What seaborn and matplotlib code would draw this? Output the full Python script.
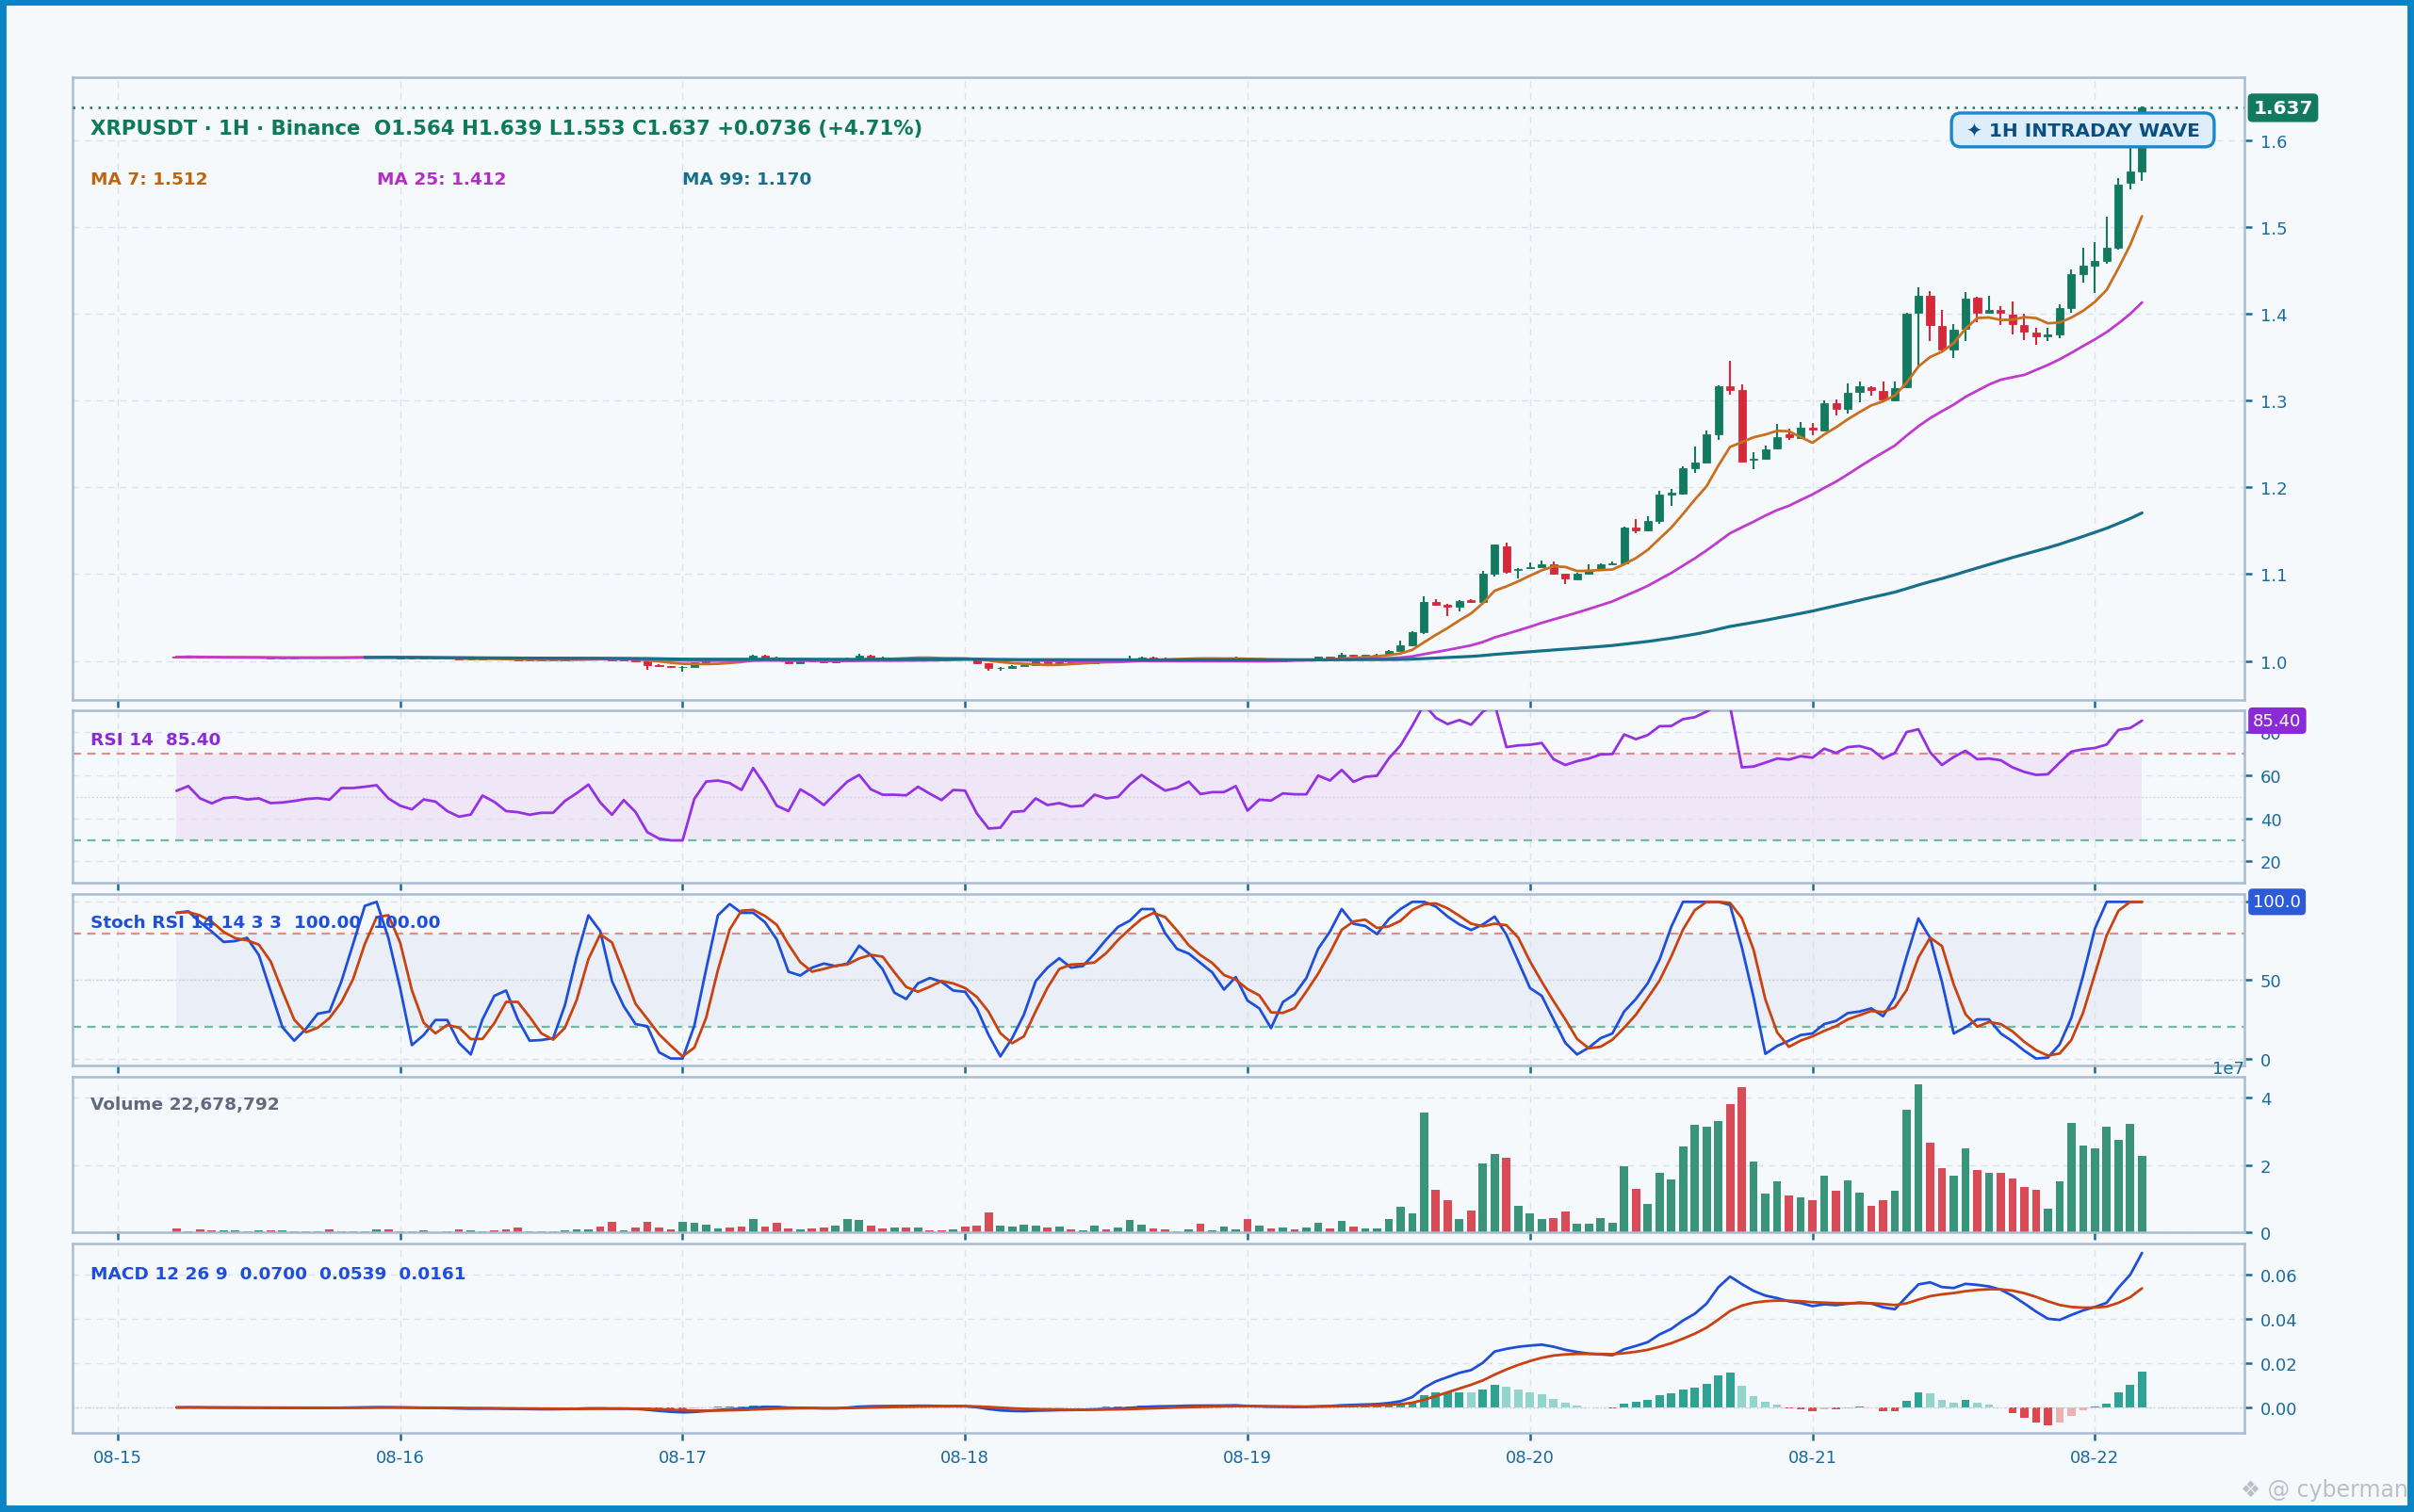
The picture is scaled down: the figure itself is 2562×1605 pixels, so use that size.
import numpy as np
import pandas as pd
import matplotlib
matplotlib.use("Agg")
import matplotlib.pyplot as plt
import matplotlib.dates as mdates
import matplotlib.transforms as mtransforms
from matplotlib.patches import Rectangle
import seaborn as sns

sns.set_theme(style="white")
plt.rcParams['font.family'] = ['DejaVu Sans']

# ---------------- data (hourly candles, 08-15 05:00 .. 08-22 04:00) ----------------
start_time = "2025-08-15 05:00"
opens = [1.0050, 1.0043, 1.0050, 1.0041, 1.0034, 1.0038, 1.0040, 1.0035, 1.0037, 1.0031,
         1.0032, 1.0034, 1.0036, 1.0037, 1.0035, 1.0046, 1.0047, 1.0049, 1.0052, 1.0040,
         1.0032, 1.0024, 1.0031, 1.0032, 1.0022, 1.0012, 1.0014, 1.0029, 1.0023, 1.0013,
         1.0005, 1.0007, 1.0009, 1.0010, 1.0020, 1.0027, 1.0036, 1.0020, 1.0005, 1.0013,
         0.9998, 0.9956, 0.9936, 0.9927, 0.9935, 0.9980, 1.0010, 1.0025, 1.0020, 1.0012,
         1.0060, 1.0043, 1.0012, 0.9975, 1.0000, 0.9993, 0.9982, 0.9998, 1.0030, 1.0060,
         1.0040, 1.0030, 1.0031, 1.0028, 1.0040, 1.0030, 1.0018, 1.0030, 1.0027, 0.9970,
         0.9915, 0.9918, 0.9945, 0.9955, 0.9990, 0.9978, 0.9985, 0.9975, 0.9977, 0.9998,
         0.9992, 1.0000, 1.0022, 1.0040, 1.0030, 1.0020, 1.0024, 1.0036, 1.0022, 1.0026,
         1.0028, 1.0038, 0.9990, 1.0005, 0.9998, 1.0010, 1.0005, 1.0015, 1.0045, 1.0040,
         1.0068, 1.0058, 1.0066, 1.0073, 1.0116, 1.0174, 1.0334, 1.0680, 1.0650, 1.0620,
         1.0700, 1.0680, 1.1000, 1.1320, 1.1050, 1.1070, 1.1085, 1.1117, 1.1000, 1.0943,
         1.1008, 1.1045, 1.1110, 1.1125, 1.1540, 1.1500, 1.1607, 1.1915, 1.1930, 1.2220,
         1.2280, 1.2615, 1.3160, 1.3120, 1.2315, 1.2330, 1.2445, 1.2605, 1.2563, 1.2690,
         1.2654, 1.2968, 1.2906, 1.3097, 1.3152, 1.3112, 1.2996, 1.3148, 1.4007, 1.4206,
         1.3856, 1.3581, 1.3820, 1.4180, 1.4007, 1.4043, 1.3990, 1.3870, 1.3783, 1.3737,
         1.3755, 1.4061, 1.4451, 1.4549, 1.4603, 1.4755, 1.5505, 1.5640]
highs = [1.0056, 1.0055, 1.0053, 1.0045, 1.0043, 1.0046, 1.0044, 1.0042, 1.0040, 1.0038,
         1.0039, 1.0041, 1.0042, 1.0041, 1.0052, 1.0053, 1.0055, 1.0060, 1.0055, 1.0044,
         1.0036, 1.0037, 1.0036, 1.0035, 1.0026, 1.0019, 1.0034, 1.0032, 1.0027, 1.0017,
         1.0012, 1.0014, 1.0015, 1.0025, 1.0032, 1.0042, 1.0040, 1.0024, 1.0019, 1.0016,
         1.0002, 0.9962, 0.9945, 0.9940, 0.9985, 1.0015, 1.0030, 1.0030, 1.0026, 1.0072,
         1.0066, 1.0048, 1.0016, 1.0005, 1.0004, 0.9998, 1.0004, 1.0036, 1.0078, 1.0068,
         1.0044, 1.0037, 1.0035, 1.0046, 1.0044, 1.0034, 1.0035, 1.0038, 1.0031, 0.9975,
         0.9925, 0.9950, 0.9960, 0.9996, 0.9995, 0.9990, 0.9990, 0.9982, 1.0004, 1.0003,
         1.0006, 1.0062, 1.0046, 1.0045, 1.0034, 1.0028, 1.0042, 1.0040, 1.0030, 1.0032,
         1.0044, 1.0042, 1.0010, 1.0009, 1.0015, 1.0014, 1.0020, 1.0050, 1.0050, 1.0090,
         1.0074, 1.0072, 1.0080, 1.0125, 1.0230, 1.0340, 1.0740, 1.0710, 1.0660, 1.0700,
         1.0715, 1.1040, 1.1340, 1.1360, 1.1065, 1.1135, 1.1160, 1.1150, 1.1005, 1.1015,
         1.1110, 1.1125, 1.1140, 1.1545, 1.1636, 1.1670, 1.1960, 1.1980, 1.2240, 1.2470,
         1.2650, 1.3170, 1.3457, 1.3190, 1.2400, 1.2480, 1.2726, 1.2670, 1.2755, 1.2744,
         1.2997, 1.3010, 1.3195, 1.3220, 1.3160, 1.3220, 1.3220, 1.4010, 1.4303, 1.4260,
         1.4043, 1.3880, 1.4250, 1.4190, 1.4206, 1.4087, 1.4140, 1.4000, 1.3840, 1.3834,
         1.4105, 1.4513, 1.4755, 1.4820, 1.5116, 1.5563, 1.5990, 1.6390]
lows = [1.0038, 1.0040, 1.0036, 1.0029, 1.0030, 1.0034, 1.0030, 1.0031, 1.0026, 1.0027,
        1.0029, 1.0030, 1.0032, 1.0030, 1.0033, 1.0042, 1.0043, 1.0045, 1.0035, 1.0027,
        1.0012, 1.0020, 1.0027, 1.0017, 1.0006, 1.0008, 1.0011, 1.0018, 1.0008, 0.9998,
        1.0001, 1.0003, 1.0005, 1.0007, 1.0016, 1.0023, 1.0015, 0.9998, 1.0001, 0.9992,
        0.9900, 0.9925, 0.9915, 0.9877, 0.9930, 0.9976, 1.0005, 1.0014, 1.0006, 1.0010,
        1.0038, 1.0006, 0.9968, 0.9970, 0.9987, 0.9976, 0.9972, 0.9995, 1.0026, 1.0034,
        1.0025, 1.0026, 1.0022, 1.0024, 1.0025, 1.0012, 1.0014, 1.0022, 0.9962, 0.9890,
        0.9885, 0.9910, 0.9938, 0.9950, 0.9972, 0.9966, 0.9970, 0.9971, 0.9973, 0.9986,
        0.9988, 0.9996, 1.0018, 1.0024, 1.0015, 1.0016, 1.0020, 1.0016, 1.0018, 1.0022,
        1.0024, 0.9984, 0.9985, 0.9993, 0.9994, 1.0000, 1.0001, 1.0012, 1.0034, 1.0036,
        1.0052, 1.0054, 1.0062, 1.0068, 1.0110, 1.0168, 1.0310, 1.0640, 1.0520, 1.0570,
        1.0670, 1.0675, 1.0970, 1.1000, 1.0950, 1.1065, 1.1080, 1.0990, 1.0880, 1.0935,
        1.1000, 1.1040, 1.1100, 1.1120, 1.1470, 1.1490, 1.1580, 1.1790, 1.1920, 1.2160,
        1.2275, 1.2540, 1.3070, 1.2295, 1.2210, 1.2320, 1.2440, 1.2545, 1.2555, 1.2600,
        1.2650, 1.2823, 1.2852, 1.2980, 1.3050, 1.3010, 1.2990, 1.3140, 1.3394, 1.3680,
        1.3575, 1.3484, 1.3682, 1.3900, 1.4000, 1.3870, 1.3755, 1.3700, 1.3635, 1.3680,
        1.3720, 1.4010, 1.4357, 1.4240, 1.4570, 1.4740, 1.5430, 1.5530]
closes = [1.0043, 1.0050, 1.0041, 1.0034, 1.0038, 1.0040, 1.0035, 1.0037, 1.0031, 1.0032,
          1.0034, 1.0036, 1.0037, 1.0035, 1.0046, 1.0047, 1.0049, 1.0052, 1.0040, 1.0032,
          1.0024, 1.0031, 1.0032, 1.0022, 1.0012, 1.0014, 1.0029, 1.0023, 1.0013, 1.0005,
          1.0007, 1.0009, 1.0010, 1.0020, 1.0027, 1.0036, 1.0020, 1.0005, 1.0013, 0.9998,
          0.9956, 0.9936, 0.9927, 0.9935, 0.9980, 1.0010, 1.0025, 1.0020, 1.0012, 1.0060,
          1.0043, 1.0012, 0.9975, 1.0000, 0.9993, 0.9982, 0.9998, 1.0030, 1.0060, 1.0040,
          1.0030, 1.0031, 1.0028, 1.0040, 1.0030, 1.0018, 1.0030, 1.0027, 0.9970, 0.9915,
          0.9918, 0.9945, 0.9955, 0.9990, 0.9978, 0.9985, 0.9975, 0.9977, 0.9998, 0.9992,
          1.0000, 1.0022, 1.0040, 1.0030, 1.0020, 1.0024, 1.0036, 1.0022, 1.0026, 1.0028,
          1.0038, 0.9990, 1.0005, 0.9998, 1.0010, 1.0005, 1.0015, 1.0045, 1.0040, 1.0068,
          1.0058, 1.0066, 1.0073, 1.0116, 1.0174, 1.0334, 1.0680, 1.0650, 1.0620, 1.0690,
          1.0680, 1.1000, 1.1335, 1.1027, 1.1060, 1.1080, 1.1117, 1.1000, 1.0954, 1.1008,
          1.1045, 1.1117, 1.1125, 1.1540, 1.1500, 1.1607, 1.1915, 1.1935, 1.2220, 1.2280,
          1.2615, 1.3163, 1.3120, 1.2300, 1.2330, 1.2440, 1.2580, 1.2580, 1.2690, 1.2665,
          1.2968, 1.2906, 1.3087, 1.3159, 1.3123, 1.3014, 1.3140, 1.3996, 1.4206, 1.3863,
          1.3581, 1.3816, 1.4170, 1.4007, 1.4043, 1.4007, 1.3880, 1.3790, 1.3737, 1.3755,
          1.4061, 1.4451, 1.4549, 1.4603, 1.4755, 1.5487, 1.5634, 1.6370]
volumes_m = [1.2, 0.5, 0.9, 0.65, 0.65, 0.65, 0.4, 0.65, 0.65, 0.65,
             0.4, 0.4, 0.4, 0.9, 0.4, 0.4, 0.4, 1.0, 1.0, 0.4,
             0.4, 0.65, 0.1, 0.4, 1.0, 0.65, 0.4, 0.65, 1.0, 1.6,
             0.4, 0.4, 0.4, 0.65, 1.0, 1.0, 1.8, 3.2, 0.65, 1.5,
             3.2, 1.5, 0.9, 3.2, 2.9, 2.3, 1.2, 1.5, 1.8, 4.0,
             1.8, 2.9, 1.2, 0.9, 1.2, 1.5, 2.0, 4.0, 3.7, 2.0,
             1.2, 1.5, 1.5, 1.5, 0.65, 0.65, 0.9, 1.8, 2.0, 6.0,
             2.0, 1.8, 2.3, 2.0, 1.5, 1.8, 0.9, 0.65, 2.0, 0.9,
             1.5, 3.7, 2.3, 1.2, 0.9, 0.4, 0.9, 2.6, 0.65, 1.8,
             0.9, 4.0, 2.0, 1.2, 1.5, 0.9, 1.5, 2.9, 1.2, 3.4,
             1.8, 1.2, 1.2, 4.0, 7.6, 5.7, 35.5, 12.7, 9.6, 4.0,
             6.5, 20.5, 23.3, 22.1, 7.9, 5.7, 4.0, 4.3, 6.2, 2.6,
             2.6, 4.3, 2.9, 19.6, 12.9, 8.5, 17.7, 15.7, 25.5, 31.9,
             31.3, 33.0, 38.0, 43.1, 21.0, 11.5, 15.2, 11.0, 10.4, 9.6,
             16.8, 12.4, 15.4, 11.8, 7.9, 9.6, 12.4, 36.4, 43.9, 26.6,
             19.1, 16.8, 24.9, 18.5, 17.7, 17.7, 16.0, 13.5, 12.7, 7.1,
             15.2, 32.5, 25.8, 24.9, 31.3, 27.4, 32.2, 22.678792]
rsi_values = [52.8, 55.0, 49.3, 47.0, 49.4, 49.9, 48.8, 49.3, 47.1, 47.4,
              48.1, 49.0, 49.4, 48.7, 54.1, 54.1, 54.7, 55.4, 49.3, 45.9,
              44.2, 48.8, 47.8, 43.4, 40.8, 41.8, 50.6, 47.7, 43.4, 42.9,
              41.7, 42.6, 42.6, 48.1, 51.7, 55.7, 47.4, 41.7, 48.5, 43.0,
              33.6, 30.6, 29.8, 29.8, 49.1, 57.1, 57.6, 56.4, 53.2, 63.4,
              55.4, 45.9, 43.4, 53.5, 50.3, 46.2, 51.7, 57.1, 60.2, 53.5,
              51.0, 51.0, 50.7, 54.7, 51.5, 48.5, 53.2, 52.9, 42.3, 35.3,
              35.7, 43.0, 43.4, 49.3, 46.2, 47.1, 45.5, 45.9, 51.0, 49.3,
              50.0, 55.8, 60.2, 56.4, 52.9, 54.2, 57.1, 51.3, 52.2, 52.2,
              55.0, 43.6, 48.7, 48.3, 51.6, 51.2, 51.2, 59.9, 57.6, 62.5,
              57.0, 59.3, 59.8, 67.8, 73.9, 83.0, 93.0, 86.7, 83.8, 85.7,
              83.5, 89.6, 93.0, 73.1, 73.9, 74.2, 75.0, 67.5, 64.8, 66.6,
              67.8, 69.7, 69.9, 79.0, 76.8, 78.7, 82.8, 82.9, 86.1, 87.0,
              89.6, 93.0, 92.0, 63.7, 64.1, 65.9, 67.8, 67.3, 68.9, 68.2,
              72.4, 70.4, 73.1, 73.6, 72.1, 67.8, 70.4, 80.1, 81.4, 70.7,
              64.8, 68.5, 71.4, 67.5, 67.8, 67.0, 63.7, 61.6, 60.2, 60.5,
              65.9, 71.0, 72.1, 72.7, 74.3, 81.1, 82.0, 85.4]
stoch_k = [93.0, 94.0, 87.0, 81.0, 74.4, 75.0, 77.0, 66.0, 43.0, 20.0,
           11.4, 19.0, 28.6, 30.0, 49.0, 73.0, 97.4, 100.0, 77.0, 45.0,
           8.6, 15.0, 24.6, 24.6, 10.0, 2.6, 25.0, 40.0, 43.4, 25.0,
           11.4, 11.8, 13.0, 34.0, 65.0, 91.4, 81.4, 49.4, 33.4, 22.0,
           20.6, 4.0, 0.0, 0.0, 21.0, 57.0, 91.4, 98.6, 93.0, 93.0,
           87.0, 76.0, 55.4, 53.0, 58.0, 60.6, 59.0, 60.6, 72.0, 66.0,
           57.0, 42.0, 38.0, 48.0, 51.4, 49.0, 43.4, 42.6, 32.0, 15.0,
           1.4, 13.0, 28.0, 49.4, 58.0, 64.0, 58.0, 59.0, 67.0, 76.0,
           84.0, 88.0, 95.4, 95.4, 80.0, 70.0, 67.0, 61.0, 55.0, 44.0,
           52.0, 37.0, 32.0, 19.4, 36.0, 41.0, 51.4, 70.0, 81.0, 95.4,
           86.0, 84.6, 79.4, 89.0, 95.4, 100.0, 100.0, 97.0, 90.6, 85.6,
           82.0, 85.6, 90.6, 79.0, 62.0, 45.0, 40.0, 25.0, 10.0, 2.6,
           7.0, 13.0, 16.0, 30.0, 38.0, 48.0, 63.0, 84.0, 100.0, 100.0,
           100.0, 100.0, 98.0, 71.0, 39.0, 3.0, 8.0, 11.4, 15.0, 16.0,
           22.0, 24.0, 29.0, 30.0, 32.0, 27.0, 39.0, 65.0, 89.4, 77.0,
           49.0, 16.0, 20.0, 25.0, 25.0, 16.0, 11.0, 5.0, 0.0, 0.6,
           9.0, 26.0, 53.0, 83.0, 100.0, 100.0, 100.0, 100.0]

title_text = "XRPUSDT · 1H · Binance  O1.564 H1.639 L1.553 C1.637 +0.0736 (+4.71%)"
ma_labels = ["MA 7: 1.512", "MA 25: 1.412", "MA 99: 1.170"]
rsi_label = "RSI 14  85.40"
stoch_label = "Stoch RSI 14 14 3 3  100.00  100.00"
vol_label = "Volume 22,678,792"
macd_label = "MACD 12 26 9  0.0700  0.0539  0.0161"
badge_text = "✦ 1H INTRADAY WAVE"
last_price = 1.637

# ---------------- derived series ----------------
n = len(closes)
times = pd.date_range(start_time, periods=n, freq="h")
df = pd.DataFrame({"t": times, "o": opens, "h": highs, "l": lows, "c": closes,
                   "v": np.array(volumes_m) * 1e6, "rsi": rsi_values, "k": stoch_k})
df["ma7"] = df["c"].rolling(7, min_periods=1).mean()
df["ma25"] = df["c"].rolling(25, min_periods=1).mean()
df["ma99"] = df["c"].rolling(99, min_periods=17).mean()
df["d"] = df["k"].rolling(3, min_periods=1).mean()
ema12 = df["c"].ewm(span=12, adjust=False).mean()
ema26 = df["c"].ewm(span=26, adjust=False).mean()
df["macd"] = ema12 - ema26
df["sig"] = df["macd"].ewm(span=9, adjust=False).mean()
df["hist"] = df["macd"] - df["sig"]
up = df["c"] >= df["o"]

# ---------------- style ----------------
BG = "#f5f9fc"
SPINE = "#a9bdd1"
GRID = "#dce3ec"
TICK = "#1b6a9c"
UP = "#127a5e"
DN = "#d62839"
VUP = "#3a9479"
VDN = "#d94b57"
TICKSIZE = 13

W, H = 2562, 1606
fig = plt.figure(figsize=(W / 100, H / 100), dpi=100, facecolor=BG)


def rect(l, t, r, b):
    return [l / W, 1 - b / H, (r - l) / W, (b - t) / H]


ax_p = fig.add_axes(rect(77, 82.7, 2382, 744))
ax_r = fig.add_axes(rect(77, 755, 2382, 938.3))
ax_s = fig.add_axes(rect(77, 950, 2382, 1132.3))
ax_v = fig.add_axes(rect(77, 1144, 2382, 1309.3))
ax_m = fig.add_axes(rect(77, 1321, 2382, 1522.3))

xl = (pd.Timestamp("2025-08-14 20:10"), pd.Timestamp("2025-08-22 12:42"))
hour = 1 / 24


def style(ax, show_x=False):
    ax.set_facecolor(BG)
    for s in ax.spines.values():
        s.set_color(SPINE)
        s.set_linewidth(1.8)
    ax.yaxis.tick_right()
    ax.tick_params(axis='both', colors=TICK, labelcolor=TICK, labelsize=TICKSIZE,
                   length=6, width=1.8, direction='out', pad=6)
    ax.tick_params(axis='x', labelbottom=show_x, bottom=True)
    ax.xaxis.set_major_locator(mdates.DayLocator())
    ax.xaxis.set_major_formatter(mdates.DateFormatter('%m-%d'))
    ax.grid(True, color=GRID, ls=(0, (5, 4)), lw=1.0)
    ax.set_axisbelow(True)
    ax.set_xlim(xl)
    ax.set_xlabel('')
    ax.set_ylabel('')


def badge(ax, y, txt, fc, bold=False, size=13):
    tr = mtransforms.blended_transform_factory(ax.transAxes, ax.transData)
    ax.text(1.004, y, txt, transform=tr, ha='left', va='center', color='white',
            fontsize=size, fontweight='bold' if bold else 'normal', zorder=10, clip_on=False,
            bbox=dict(boxstyle='round,pad=0.28,rounding_size=0.25', fc=fc, ec='none'))


# ---------- price panel ----------
ax = ax_p
ax.vlines(df["t"], df["l"], df["h"], colors=np.where(up, UP, DN), lw=1.5, zorder=2)
body_lo = np.minimum(df["o"], df["c"])
body_h = (df["c"] - df["o"]).abs()
ax.bar(df["t"], body_h, bottom=body_lo, width=0.65 * hour,
       color=np.where(up, UP, DN), edgecolor=np.where(up, UP, DN), lw=0.6, zorder=2)
sns.lineplot(data=df, x="t", y="ma7", ax=ax, color="#c8701e", lw=2.0, zorder=3)
sns.lineplot(data=df, x="t", y="ma25", ax=ax, color="#c03ad0", lw=2.0, zorder=3)
sns.lineplot(data=df.dropna(subset=["ma99"]), x="t", y="ma99", ax=ax, color="#17708a", lw=2.3, zorder=3)
ax.axhline(last_price, color=UP, ls=(0, (1, 2.6)), lw=1.8, zorder=4)
ax.set_ylim(0.955, 1.6725)
ax.set_yticks([1.0, 1.1, 1.2, 1.3, 1.4, 1.5, 1.6])
ax.yaxis.set_major_formatter(matplotlib.ticker.FormatStrFormatter('%.1f'))
style(ax)
ax.text(0.0082, 0.918, title_text, transform=ax.transAxes, ha='left', va='center',
        fontsize=15.3, fontweight='bold', color="#0d7a58")
for xx, lab, col in zip([0.0082, 0.140, 0.2807], ma_labels, ["#c0650f", "#b52cc8", "#16708a"]):
    ax.text(xx, 0.836, lab, transform=ax.transAxes, ha='left', va='center',
            fontsize=13.3, fontweight='bold', color=col)
ax.text(0.9256, 0.915, " " + badge_text + " ", transform=ax.transAxes, ha='center', va='center',
        fontsize=14.5, fontweight='bold', color="#0b4f80", zorder=6,
        bbox=dict(boxstyle='round,pad=0.42,rounding_size=0.5', fc="#ddeefa", ec="#1a87c9", lw=2.4))
badge(ax, last_price, "1.637", UP, bold=True, size=14.5)

# ---------- RSI panel ----------
ax = ax_r
ax.fill_between([df["t"].iloc[0], df["t"].iloc[-1]], 30, 70, color="#efe7f8", lw=0, zorder=0.5)
ax.axhline(70, color="#e88a8a", ls=(0, (4, 3)), lw=1.6)
ax.axhline(30, color="#66bfa2", ls=(0, (4, 3)), lw=1.6)
ax.axhline(50, color="#c4cbd4", ls=(0, (1, 2)), lw=1.0)
sns.lineplot(data=df, x="t", y="rsi", ax=ax, color="#9531e3", lw=2.0, zorder=3)
ax.set_ylim(10, 90.2)
ax.set_yticks([20, 40, 60, 80])
style(ax)
ax.text(0.0082, 0.831, rsi_label, transform=ax.transAxes, ha='left', va='center',
        fontsize=13.3, fontweight='bold', color="#8a2bd6")
badge(ax, 85.40, "85.40", "#8a2bd6")

# ---------- Stoch RSI panel ----------
ax = ax_s
ax.fill_between([df["t"].iloc[0], df["t"].iloc[-1]], 20, 80, color="#e9eef7", lw=0, zorder=0.5)
ax.axhline(80, color="#e88a8a", ls=(0, (4, 3)), lw=1.6)
ax.axhline(20, color="#66bfa2", ls=(0, (4, 3)), lw=1.6)
ax.axhline(50, color="#c4cbd4", ls=(0, (1, 2)), lw=1.0)
sns.lineplot(data=df, x="t", y="k", ax=ax, color="#1f4fd8", lw=2.0, zorder=3)
sns.lineplot(data=df, x="t", y="d", ax=ax, color="#c9420f", lw=2.0, zorder=3)
ax.set_ylim(-4.6, 105)
ax.set_yticks([0, 50, 100])
style(ax)
ax.text(0.0082, 0.835, stoch_label, transform=ax.transAxes, ha='left', va='center',
        fontsize=13.3, fontweight='bold', color="#1f4fd8")
badge(ax, 100, "100.0", "#2c5ad8")

# ---------- Volume panel ----------
ax = ax_v
ax.bar(df["t"], df["v"], width=0.7 * hour, color=np.where(up, VUP, VDN), lw=0, zorder=2)
ax.set_ylim(0, df["v"].max() * 1.05)
ax.set_yticks([0, 2e7, 4e7])
style(ax)
ax.yaxis.get_offset_text().set_color(TICK)
ax.yaxis.get_offset_text().set_fontsize(TICKSIZE)
ax.text(0.0082, 0.823, vol_label, transform=ax.transAxes, ha='left', va='center',
        fontsize=13.3, fontweight='bold', color="#5f6b7d")

# ---------- MACD panel ----------
ax = ax_m
hist = df["hist"].to_numpy()
hcols = []
for k in range(n):
    prev = hist[k - 1] if k > 0 else 0.0
    if hist[k] >= 0:
        hcols.append("#2ea394" if hist[k] >= prev else "#93d5cd")
    else:
        hcols.append("#e0454b" if hist[k] <= prev else "#eab2b2")
ax.bar(df["t"], hist, width=0.7 * hour, color=hcols, lw=0, zorder=2)
ax.axhline(0, color="#c4cbd4", ls=(0, (1, 2)), lw=1.0)
sns.lineplot(data=df, x="t", y="macd", ax=ax, color="#1f4fd8", lw=2.0, zorder=3)
sns.lineplot(data=df, x="t", y="sig", ax=ax, color="#c9420f", lw=2.0, zorder=3)
ax.set_ylim(-0.0116, 0.074)
ax.set_yticks([0.0, 0.02, 0.04, 0.06])
ax.yaxis.set_major_formatter(matplotlib.ticker.FormatStrFormatter('%.2f'))
style(ax, show_x=True)
ax.text(0.0082, 0.84, macd_label, transform=ax.transAxes, ha='left', va='center',
        fontsize=13.3, fontweight='bold', color="#1f4fd8")

# ---------- frame & watermark ----------
fig.patches.append(Rectangle((0, 0), 1, 1, transform=fig.transFigure, fill=False,
                             ec="#0b84c6", lw=10, zorder=100))
fig.text(0.9975, 0.0148, "❖ @ cyberman", ha='right', va='center', color="#b8c0c8",
         fontsize=17, zorder=101)

fig.savefig("out.png", dpi=100, facecolor=BG)
